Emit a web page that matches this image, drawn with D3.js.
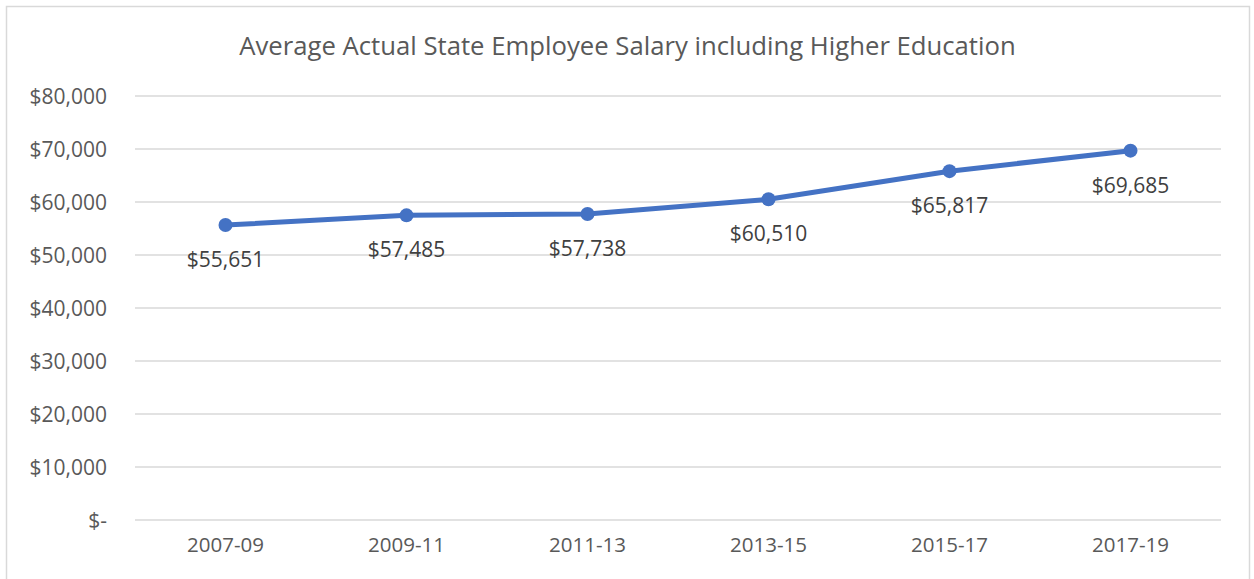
<!DOCTYPE html>
<html>
<head>
<meta charset="utf-8">
<script src="https://cdn.jsdelivr.net/npm/d3@7"></script>
<style>
  html, body { margin: 0; padding: 0; background: #ffffff; }
  svg { display: block; font-family: "Open Sans", sans-serif; }
</style>
</head>
<body>
<svg id="chart" width="1254" height="579"></svg>
<script>
const title = "Average Actual State Employee Salary including Higher Education";
const categories = ["2007-09", "2009-11", "2011-13", "2013-15", "2015-17", "2017-19"];
const salaries = [55651, 57485, 57738, 60510, 65817, 69685];
const yTicks = [0, 10000, 20000, 30000, 40000, 50000, 60000, 70000, 80000];

const svg = d3.select("#chart");
const W = 1254, H = 579;
const plot = { left: 135, right: 1221, top: 96, bottom: 520 };

// chart border
svg.append("rect")
  .attr("x", 6.5).attr("y", 6.5)
  .attr("width", 1243).attr("height", 620)
  .attr("fill", "#fff").attr("stroke", "#d9d9d9").attr("stroke-width", 1.5);

const x = d3.scaleBand().domain(categories).range([plot.left, plot.right]);
const y = d3.scaleLinear().domain([0, 80000]).range([plot.bottom, plot.top]);

const fmtMoney = v => v === 0 ? "$-" : "$" + d3.format(",")(v);

// gridlines
svg.append("g").selectAll("line").data(yTicks).join("line")
  .attr("x1", plot.left).attr("x2", plot.right)
  .attr("y1", d => y(d)).attr("y2", d => y(d))
  .attr("stroke", "#d9d9d9").attr("stroke-width", 1.3);

// y axis labels
const yAxis = d3.axisLeft(y).tickValues(yTicks).tickFormat(fmtMoney).tickSize(0).tickPadding(28);
const gy = svg.append("g").attr("transform", `translate(${plot.left},0)`).call(yAxis);
gy.select(".domain").remove();
gy.selectAll("text").attr("font-size", 21).attr("fill", "#595959")
  .attr("font-family", "Open Sans, sans-serif").attr("dy", "0.35em");

// x axis labels
const xAxis = d3.axisBottom(x).tickSize(0).tickPadding(17);
const gx = svg.append("g").attr("transform", `translate(0,${plot.bottom})`).call(xAxis);
gx.select(".domain").remove();
gx.selectAll("text").attr("font-size", 20.5).attr("fill", "#595959")
  .attr("font-family", "Open Sans, sans-serif");

// title
svg.append("text")
  .attr("x", 627.5).attr("y", 55)
  .attr("text-anchor", "middle")
  .attr("font-size", 25.7).attr("fill", "#595959")
  .text(title);

const data = categories.map((c, i) => ({ c, v: salaries[i] }));
const cx = d => x(d.c) + x.bandwidth() / 2;

// line
svg.append("path").datum(data)
  .attr("fill", "none").attr("stroke", "#4472C4").attr("stroke-width", 5)
  .attr("stroke-linejoin", "round")
  .attr("d", d3.line().x(cx).y(d => y(d.v)));

// markers
svg.append("g").selectAll("circle").data(data).join("circle")
  .attr("cx", cx).attr("cy", d => y(d.v)).attr("r", 7)
  .attr("fill", "#4472C4");

// data labels
svg.append("g").selectAll("text").data(data).join("text")
  .attr("x", cx).attr("y", d => y(d.v) + 42)
  .attr("text-anchor", "middle")
  .attr("font-size", 21).attr("fill", "#404040")
  .text(d => fmtMoney(d.v));
</script>
</body>
</html>
